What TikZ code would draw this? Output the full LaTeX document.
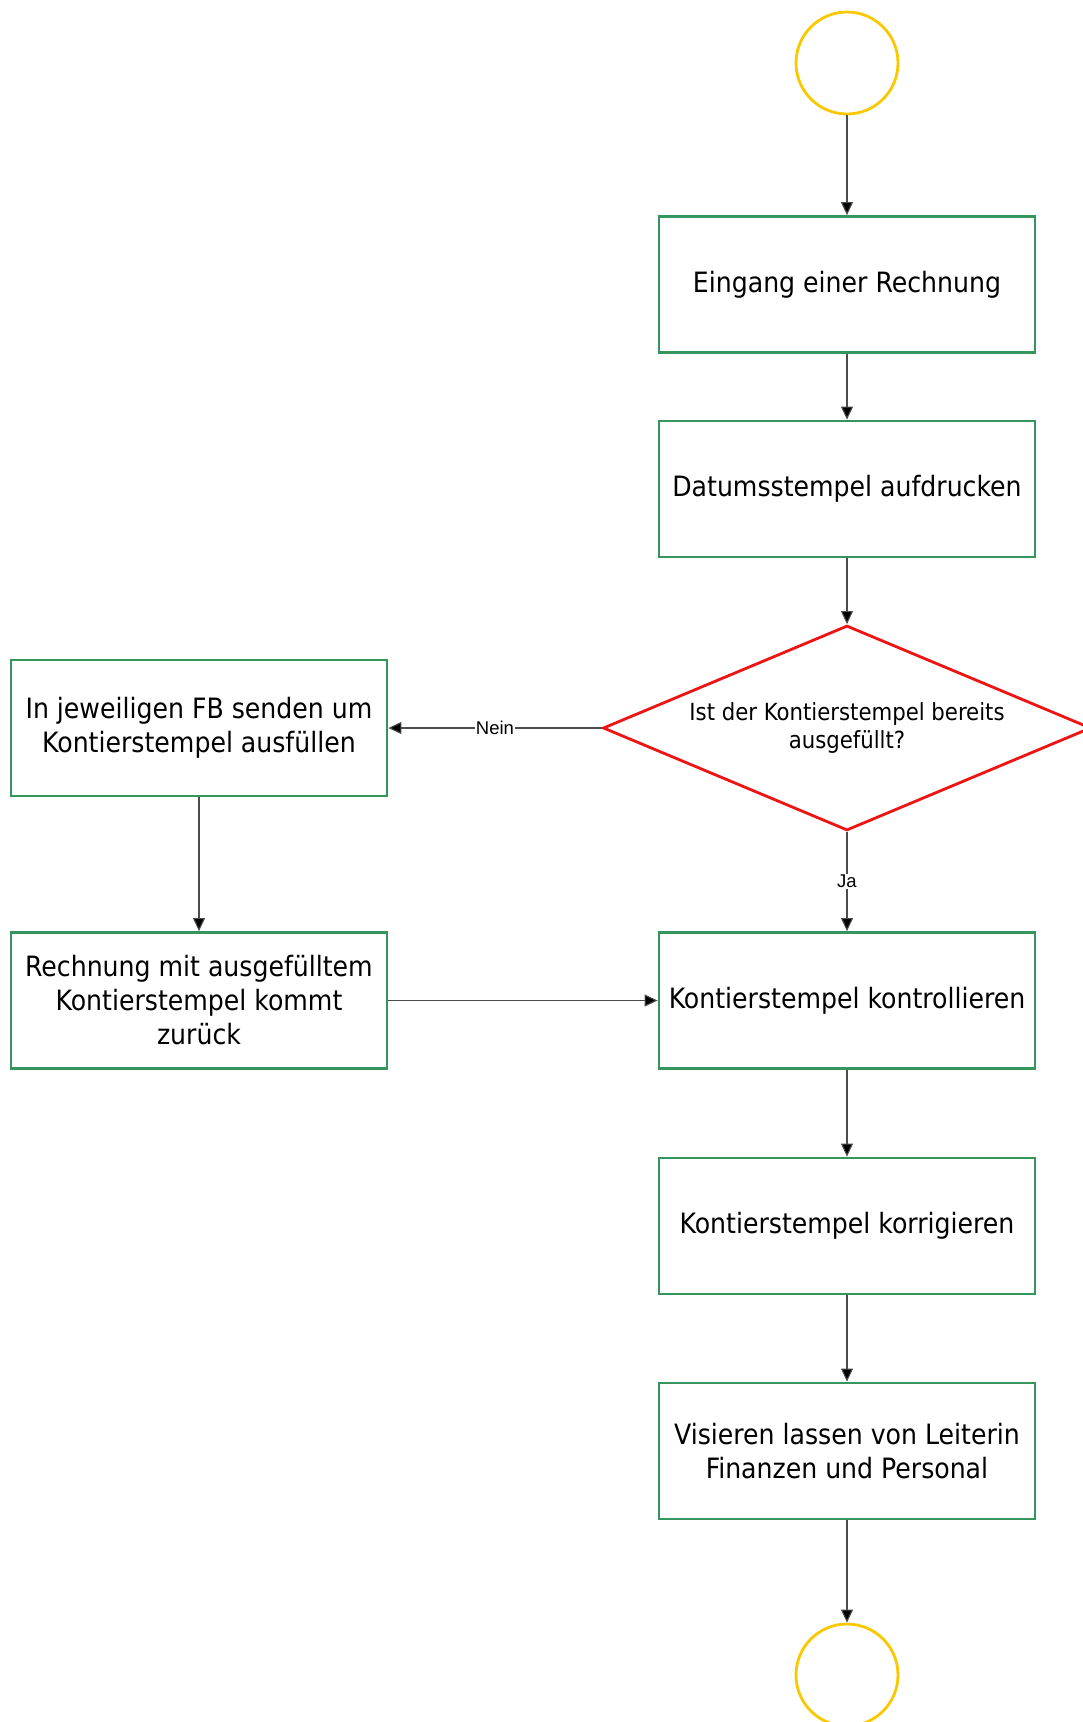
\documentclass[tikz,border=0pt]{standalone}
\usepackage{fontspec}
\setmainfont{DejaVu Sans Condensed}
\newfontfamily\labelfont{Liberation Sans}
\usetikzlibrary{shapes.geometric,arrows.meta}
\definecolor{boxgreen}{RGB}{52,150,92}
\definecolor{decred}{RGB}{238,20,20}
\definecolor{termyellow}{RGB}{250,200,0}
\begin{document}
\begin{tikzpicture}[x=1pt,y=-1pt,
    stepbox/.style={draw=boxgreen,line width=2.8pt,minimum width=376pt,minimum height=136pt,
      align=center,inner sep=4pt,font=\fontsize{28}{34}\selectfont},
    decision/.style={diamond,draw=decred,line width=2.8pt,aspect=2.4,minimum width=488pt,
      minimum height=205pt,inner sep=0pt,align=center,font=\fontsize{23.6}{28}\selectfont},
    terminal/.style={circle,draw=termyellow,line width=2.8pt,minimum size=102pt,inner sep=0pt},
    flow/.style={draw=black!70,line width=1.1pt,-{Triangle[length=13pt,width=12pt,fill=black]}},
    flowlabel/.style={fill=white,inner sep=1pt,font=\labelfont\fontsize{18.5}{20}\selectfont}]
  \useasboundingbox (0,0) rectangle (1083,1722);
  % Start und Ende
  \node[terminal] (start) at (847,63) {};
  \node[terminal] (ende) at (847,1675) {};
  % Hauptablauf rechts
  \node[stepbox] (eingang) at (847,284.5) {Eingang einer Rechnung};
  \node[stepbox] (datum) at (847,489) {Datumsstempel aufdrucken};
  \node[decision] (frage) at (847,728) {Ist der Kontierstempel bereits\\ausgefüllt?};
  \node[stepbox] (kontrolle) at (847,1000.5) {Kontierstempel kontrollieren};
  \node[stepbox] (korrektur) at (847,1226) {Kontierstempel korrigieren};
  \node[stepbox] (visum) at (847,1451) {Visieren lassen von Leiterin\\Finanzen und Personal};
  % Nebenweg links
  \node[stepbox] (senden) at (199,728) {In jeweiligen FB senden um\\Kontierstempel ausfüllen};
  \node[stepbox] (zurueck) at (199,1000.5) {Rechnung mit ausgefülltem\\Kontierstempel kommt\\zurück};
  % Verbindungen
  \draw[flow] (start) -- (eingang);
  \draw[flow] (eingang) -- (datum);
  \draw[flow] (datum) -- (frage);
  \draw[flow] (frage.west) -- node[flowlabel] {Nein} (senden.east);
  \draw[flow] (frage.south) -- node[flowlabel] {Ja} (kontrolle.north);
  \draw[flow] (senden) -- (zurueck);
  \draw[flow] (zurueck) -- (kontrolle);
  \draw[flow] (kontrolle) -- (korrektur);
  \draw[flow] (korrektur) -- (visum);
  \draw[flow] (visum) -- (ende);
\end{tikzpicture}
\end{document}
